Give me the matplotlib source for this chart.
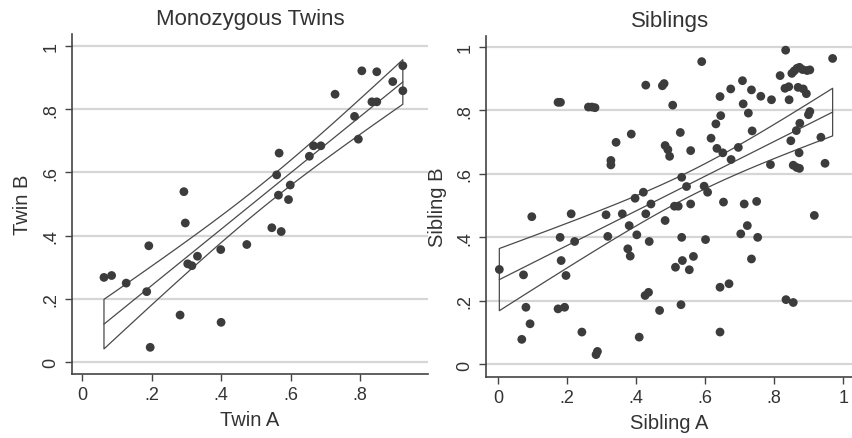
import matplotlib
matplotlib.use('Agg')
import matplotlib.pyplot as plt
import numpy as np

plt.rcParams['font.family'] = ['Liberation Sans', 'DejaVu Sans']

# Monozygous twins
twin_a = [0.063, 0.085, 0.127, 0.192, 0.186, 0.196, 0.282, 0.293, 0.297, 0.304,
          0.316, 0.332, 0.399, 0.400, 0.474, 0.546, 0.573, 0.560, 0.565, 0.567,
          0.594, 0.599, 0.654, 0.666, 0.687, 0.728, 0.784, 0.795, 0.805, 0.834,
          0.848, 0.848, 0.894, 0.923, 0.923]
twin_b = [0.268, 0.274, 0.250, 0.368, 0.223, 0.047, 0.149, 0.539, 0.440, 0.311,
          0.305, 0.335, 0.356, 0.126, 0.372, 0.425, 0.413, 0.592, 0.528, 0.661,
          0.514, 0.560, 0.651, 0.684, 0.684, 0.847, 0.777, 0.705, 0.921, 0.823,
          0.823, 0.918, 0.887, 0.937, 0.858]

# Siblings
sib_a = [0.004, 0.074, 0.081, 0.098, 0.093, 0.069, 0.174, 0.181, 0.180, 0.183,
         0.197, 0.174, 0.193, 0.212, 0.222, 0.243, 0.262, 0.272, 0.281, 0.284,
         0.288, 0.313, 0.318, 0.327, 0.327, 0.342, 0.360, 0.376, 0.383, 0.380,
         0.386, 0.402, 0.397, 0.409, 0.421, 0.428, 0.428, 0.426, 0.436, 0.438,
         0.443, 0.468, 0.476, 0.481, 0.484, 0.484, 0.492, 0.497, 0.506, 0.511,
         0.522, 0.514, 0.528, 0.532, 0.532, 0.534, 0.530, 0.546, 0.554, 0.558,
         0.558, 0.566, 0.590, 0.597, 0.601, 0.607, 0.617, 0.631, 0.643, 0.645,
         0.634, 0.643, 0.643, 0.651, 0.653, 0.669, 0.674, 0.675, 0.696, 0.703,
         0.708, 0.710, 0.713, 0.725, 0.722, 0.734, 0.734, 0.736, 0.749, 0.752,
         0.761, 0.792, 0.789, 0.817, 0.833, 0.831, 0.842, 0.834, 0.855, 0.843,
         0.848, 0.851, 0.858, 0.866, 0.873, 0.882, 0.895, 0.903, 0.855, 0.865,
         0.873, 0.864, 0.869, 0.884, 0.874, 0.872, 0.893, 0.903, 0.899, 0.916,
         0.935, 0.947, 0.969]
sib_b = [0.299, 0.282, 0.180, 0.465, 0.128, 0.079, 0.825, 0.825, 0.400, 0.327,
         0.280, 0.175, 0.180, 0.474, 0.387, 0.102, 0.810, 0.810, 0.808, 0.031,
         0.041, 0.471, 0.403, 0.642, 0.628, 0.699, 0.474, 0.364, 0.341, 0.437,
         0.725, 0.408, 0.523, 0.086, 0.542, 0.879, 0.474, 0.217, 0.227, 0.387,
         0.505, 0.170, 0.877, 0.884, 0.453, 0.689, 0.676, 0.655, 0.816, 0.498,
         0.498, 0.306, 0.730, 0.589, 0.400, 0.327, 0.188, 0.560, 0.298, 0.673,
         0.505, 0.340, 0.953, 0.561, 0.393, 0.542, 0.712, 0.757, 0.843, 0.783,
         0.680, 0.243, 0.102, 0.666, 0.511, 0.254, 0.867, 0.645, 0.683, 0.411,
         0.893, 0.820, 0.505, 0.791, 0.437, 0.864, 0.332, 0.735, 0.513, 0.400,
         0.844, 0.833, 0.629, 0.909, 0.989, 0.869, 0.874, 0.204, 0.195, 0.833,
         0.704, 0.916, 0.924, 0.932, 0.935, 0.928, 0.925, 0.927, 0.627, 0.620,
         0.617, 0.736, 0.872, 0.867, 0.759, 0.666, 0.852, 0.796, 0.786, 0.469,
         0.715, 0.633, 0.963]

ticks = [0, 0.2, 0.4, 0.6, 0.8, 1]
tick_labels = ['0', '.2', '.4', '.6', '.8', '1']

dot_col = '#3c3c3c'
line_col = '#4a4a4a'
grid_col = '#d6d6d6'


def lfitci(ax, x, y, tcrit):
    # linear fit with 95% CI of the mean prediction (like stata lfitci)
    x = np.asarray(x)
    y = np.asarray(y)
    n = len(x)
    b, a = np.polyfit(x, y, 1)
    resid = y - (a + b * x)
    s = np.sqrt(np.sum(resid ** 2) / (n - 2))
    sxx = np.sum((x - x.mean()) ** 2)
    xs = np.linspace(x.min(), x.max(), 40)
    fit = a + b * xs
    se = s * np.sqrt(1.0 / n + (xs - x.mean()) ** 2 / sxx)
    ax.fill_between(xs, fit - tcrit * se, fit + tcrit * se, facecolor='none',
                    edgecolor=line_col, linewidth=0.9, zorder=2)
    ax.plot(xs, fit, color=line_col, linewidth=0.9, zorder=2)


def style(ax, xlim, ylim, xticks, xlabels, title, xlab, ylab):
    ax.set_xlim(xlim)
    ax.set_ylim(ylim)
    ax.set_xticks(xticks)
    ax.set_xticklabels(xlabels)
    ax.set_yticks(ticks)
    ax.set_yticklabels(tick_labels, rotation=90, va='center')
    for t in ticks:
        ax.axhline(t, color=grid_col, linewidth=1.6, zorder=0)
    for sp in ['top', 'right']:
        ax.spines[sp].set_visible(False)
    for sp in ['left', 'bottom']:
        ax.spines[sp].set_color('#444444')
        ax.spines[sp].set_linewidth(1.2)
    ax.tick_params(direction='out', length=5, width=1, colors='#444444',
                   labelsize=13, labelcolor='#333333', pad=4)
    ax.set_title(title, fontsize=16, color='#333333', pad=7)
    ax.set_xlabel(xlab, fontsize=14.5, color='#333333', labelpad=5)
    ax.set_ylabel(ylab, fontsize=14.5, color='#333333', labelpad=7)


fig = plt.figure(figsize=(8.53, 4.39), dpi=100)
ax1 = fig.add_axes([0.084, 0.146, 0.418, 0.774])
ax2 = fig.add_axes([0.570, 0.140, 0.430, 0.776])

ax1.scatter(twin_a, twin_b, s=40, color=dot_col, edgecolors='none', zorder=3)
lfitci(ax1, twin_a, twin_b, 2.03)
style(ax1, (-0.03, 0.996), (-0.037, 1.037), [0, 0.2, 0.4, 0.6, 0.8],
      ['0', '.2', '.4', '.6', '.8'], 'Monozygous Twins', 'Twin A', 'Twin B')

ax2.scatter(sib_a, sib_b, s=40, color=dot_col, edgecolors='none', zorder=3)
lfitci(ax2, sib_a, sib_b, 1.98)
style(ax2, (-0.034, 1.028), (-0.038, 1.034), ticks, tick_labels,
      'Siblings', 'Sibling A', 'Sibling B')

fig.savefig('out.png', dpi=100)
